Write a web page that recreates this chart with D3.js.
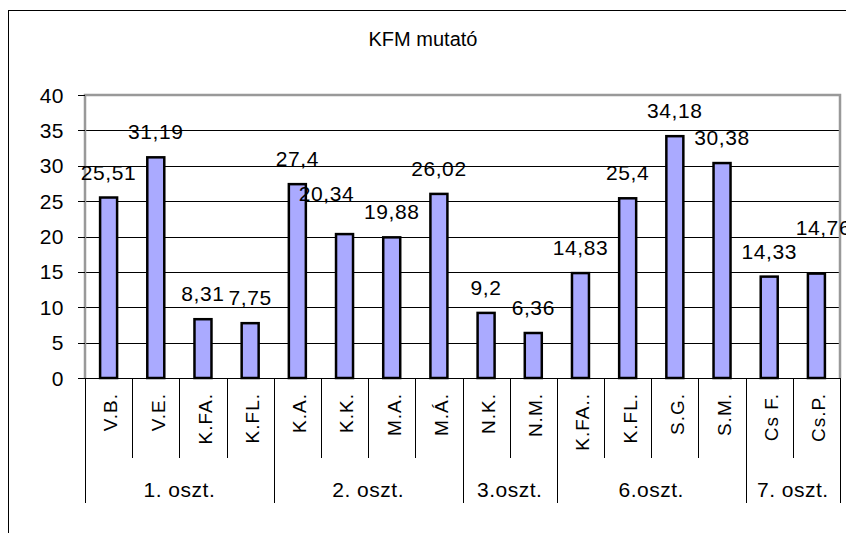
<!DOCTYPE html>
<html>
<head>
<meta charset="utf-8">
<script src="https://cdn.jsdelivr.net/npm/d3@7"></script>
<style>
  body { margin: 0; background: #fff; }
  text { font-family: Arial, "Liberation Sans", sans-serif; fill: #000; }
</style>
</head>
<body>
<svg id="chart" width="846" height="533"></svg>
<script>
// data
let names = ["V.B.", "V.E.", "K.FA.", "K.FL.", "K.A.", "K.K.", "M.A.", "M.Á.",
    "N.K.", "N.M.", "K.FA..", "K.FL.", "S.G.", "S.M.", "Cs F.", "Cs.P."];
let values = [25.51, 31.19, 8.31, 7.75, 27.4, 20.34, 19.88, 26.02,
    9.2, 6.36, 14.83, 25.4, 34.18, 30.38, 14.33, 14.76];
let groupNames = ["1. oszt.", "2. oszt.", "3.oszt.", "6.oszt.", "7. oszt."];
let groupSizes = [4, 4, 2, 4, 2];
let yTicks = [0, 5, 10, 15, 20, 25, 30, 35, 40];
let title = "KFM mutató";

// labels that were moved by hand in the original
let labelNudge = {5: [-18, -15], 15: [7, -21]};

let svg = d3.select("#chart"),
    margin = {top: 95, right: 6, bottom: 155, left: 85},
    width = 846 - margin.left - margin.right,
    height = 533 - margin.top - margin.bottom;

// outer frame (cut off at right and bottom)
svg.append("rect")
    .attr("x", 8.5).attr("y", 10.5)
    .attr("width", 900).attr("height", 600)
    .attr("fill", "none").attr("stroke", "#000").attr("stroke-width", 1);

svg.append("text")
    .attr("x", 423).attr("y", 46)
    .attr("text-anchor", "middle")
    .style("font-size", "20px")
    .text(title);

let g = svg.append("g").attr("transform", "translate(" + margin.left + "," + margin.top + ")");

let idx = d3.range(names.length);

let x = d3.scaleBand()
    .domain(idx)
    .range([0, width]);

let y = d3.scaleLinear()
    .domain([0, 40])
    .range([height, 0]);

// gridlines
g.selectAll(".grid")
    .data(yTicks.filter(d => d > 0 && d < 40))
    .enter().append("line")
    .attr("x1", 0).attr("x2", width)
    .attr("y1", d => Math.round(y(d)) + 0.5)
    .attr("y2", d => Math.round(y(d)) + 0.5)
    .attr("stroke", "#000").attr("stroke-width", 1);

// plot area border (grey)
g.append("path")
    .attr("d", "M0," + height + "V0H" + width + "V" + height)
    .attr("fill", "none").attr("stroke", "#999").attr("stroke-width", 2.5);

// y axis
let yAxis = g.append("g");
yAxis.selectAll("line")
    .data(yTicks)
    .enter().append("line")
    .attr("x1", -7).attr("x2", 0)
    .attr("y1", d => Math.round(y(d)) + 0.5)
    .attr("y2", d => Math.round(y(d)) + 0.5)
    .attr("stroke", "#000");
yAxis.selectAll("text")
    .data(yTicks)
    .enter().append("text")
    .attr("x", -21)
    .attr("y", d => y(d))
    .attr("dy", "0.36em")
    .attr("text-anchor", "end")
    .style("font-size", "21px")
    .style("letter-spacing", "0.5px")
    .text(d => d);

// bars
let barW = 17;
g.selectAll(".bar")
    .data(idx)
    .enter().append("rect")
    .attr("class", "bar")
    .attr("x", i => x(i) + x.bandwidth() / 2 - barW / 2)
    .attr("y", i => y(values[i]))
    .attr("width", barW)
    .attr("height", i => y(0) - y(values[i]))
    .attr("fill", "#aaaaff")
    .attr("stroke", "#000")
    .attr("stroke-width", 2.5);

// x axis line
g.append("line")
    .attr("x1", 0).attr("x2", width)
    .attr("y1", height + 0.5).attr("y2", height + 0.5)
    .attr("stroke", "#000");

// value labels
g.selectAll(".val")
    .data(idx)
    .enter().append("text")
    .attr("class", "val")
    .attr("x", i => x(i) + x.bandwidth() / 2 + (labelNudge[i] ? labelNudge[i][0] : 0))
    .attr("y", i => y(values[i]) - 18 + (labelNudge[i] ? labelNudge[i][1] : 0))
    .attr("text-anchor", "middle")
    .style("font-size", "21px")
    .style("letter-spacing", "0.6px")
    .text(i => String(values[i]).replace(".", ","));

// category ticks + labels
let groupEnds = Array.from(d3.cumsum(groupSizes));
g.selectAll(".ctick")
    .data(d3.range(names.length + 1))
    .enter().append("line")
    .attr("x1", i => Math.round(i * x.step()) + 0.5)
    .attr("x2", i => Math.round(i * x.step()) + 0.5)
    .attr("y1", height)
    .attr("y2", i => (i === 0 || groupEnds.includes(i)) ? height + 125 : height + 80)
    .attr("stroke", "#000");

g.selectAll(".cat")
    .data(idx)
    .enter().append("text")
    .attr("transform", i => "translate(" + (x(i) + x.bandwidth() / 2 + 2) + "," + (height + 15) + ") rotate(-90)")
    .attr("dy", "0.36em")
    .attr("text-anchor", "end")
    .style("font-size", "19px")
    .style("letter-spacing", "1px")
    .text(i => names[i]);

// group labels
let groupStart = [0].concat(groupEnds.slice(0, -1));
g.selectAll(".grp")
    .data(groupNames)
    .enter().append("text")
    .attr("x", (d, j) => (groupStart[j] + groupSizes[j] / 2) * x.step())
    .attr("y", height + 119)
    .attr("text-anchor", "middle")
    .style("font-size", "21px")
    .style("letter-spacing", "0.5px")
    .text(d => d);
</script>
</body>
</html>
